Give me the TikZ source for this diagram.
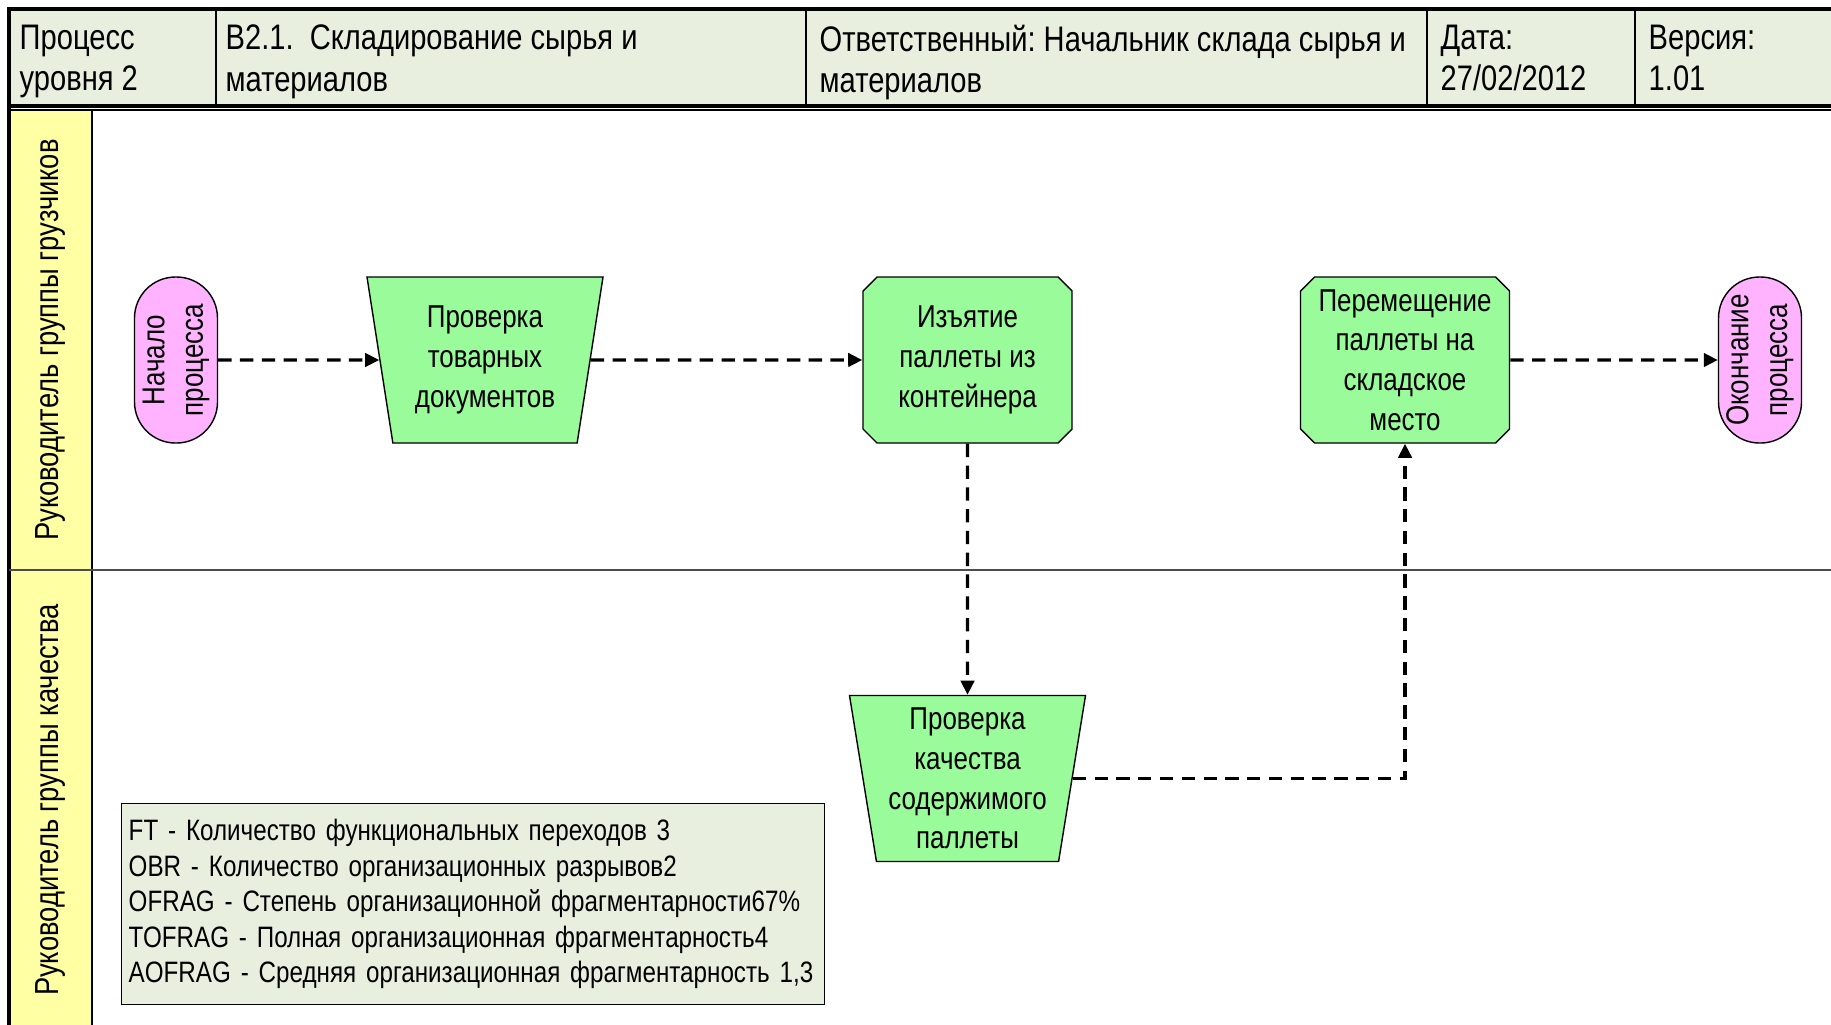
\documentclass[tikz,border=0pt]{standalone}
\usepackage{fontspec}
\setmainfont{Liberation Sans}[FakeStretch=0.82]
\usetikzlibrary{arrows.meta,shapes.geometric,shapes.misc}
\definecolor{hdrfill}{HTML}{E9EFDE}
\definecolor{lanefill}{HTML}{FFFFA3}
\definecolor{actgreen}{HTML}{99FB99}
\definecolor{evpink}{HTML}{FFB3FF}
\frenchspacing

\begin{document}
\begin{tikzpicture}[
        hdr/.style={anchor=north west, align=left, inner sep=0pt, font=\fontsize{10.1}{11.9}\selectfont},
        lanetxt/.style={rotate=90, font=\fontsize{9.5}{12}\selectfont},
        chk/.style={trapezium, trapezium stretches body, trapezium left angle=#1, trapezium right angle=#1,
                draw, fill=actgreen, minimum width=2.36cm, minimum height=1.66cm, inner sep=0pt,
                align=center, font=\fontsize{9}{11.3}\selectfont},
        act/.style={chamfered rectangle, chamfered rectangle xsep=0.07cm, chamfered rectangle ysep=0.07cm,
                draw, fill=actgreen, minimum width=2.09cm, minimum height=1.66cm, inner sep=0pt,
                align=center, font=\fontsize{9}{11.3}\selectfont},
        ev/.style={draw, fill=evpink, rounded corners=0.41cm, minimum width=1.66cm, minimum height=0.83cm,
                rotate=90, inner sep=0pt, align=center, font=\fontsize{9}{11}\selectfont},
        flow/.style={line width=0.9pt, dash pattern=on 3.8pt off 2.4pt, -{Triangle[length=4pt,width=3.8pt]}},
    ]
    \useasboundingbox (0,0) rectangle (18.31,-10.24);

    % Header and lanes
    \fill[hdrfill] (0.09,-0.09) rectangle (18.5,-1.06);
    \fill[lanefill] (0.09,-1.11) rectangle (0.92,-10.5);
    \draw[line width=1pt] (0.09,-10.5) -- (0.09,-0.09) -- (18.5,-0.09);
    \draw[line width=1pt] (0.09,-1.06) -- (18.5,-1.06);
    \draw[line width=0.5pt] (0.09,-1.10) -- (18.5,-1.10);
    \foreach \x in {2.16,8.06,14.27,16.35} \draw[line width=0.6pt] (\x,-0.09) -- (\x,-1.06);
    \draw[line width=0.5pt] (0.92,-1.10) -- (0.92,-10.5);
    \draw[line width=0.6pt, black!70] (0.09,-5.70) -- (18.5,-5.70);

    \node[hdr] (lvl) at (0.19,-0.24) {Процесс\\уровня 2};
    \node[hdr] (title) at (2.25,-0.24) {В2.1.\ \ Складирование сырья и\\материалов};
    \node[hdr] (owner) at (8.19,-0.24) {Ответственный: Начальник склада сырья и\\материалов};
    \node[hdr] (date) at (14.40,-0.24) {Дата:\\27/02/2012};
    \node[hdr] (ver) at (16.48,-0.24) {Версия:\\1.01};

    \node[lanetxt] (lane1) at (0.50,-3.40) {Руководитель группы грузчиков};
    \node[lanetxt] (lane2) at (0.50,-8.00) {Руководитель группы качества};

    % Process
    \node[ev] (start) at (1.76,-3.60) {Начало\\процесса};
    \node[chk=103.5] (chkdoc) at (4.85,-3.60) {Проверка\\товарных\\документов};
    \node[act] (take) at (9.675,-3.60) {Изъятие\\паллеты из\\контейнера};
    \node[act] (move) at (14.05,-3.60) {Перемещение\\паллеты на\\складское\\место};
    \node[ev] (finish) at (17.60,-3.60) {Окончание\\процесса};
    \node[chk=100.8] (chkqual) at (9.675,-7.785) {Проверка\\качества\\содержимого\\паллеты};

    \draw[flow] (start) -- (chkdoc);
    \draw[flow] (chkdoc) -- (take);
    \draw[flow] (take) -- (chkqual);
    \draw[flow] (chkqual) -| (move);
    \draw[flow] (move) -- (finish);

    % Metrics
    \node[draw, fill=hdrfill, anchor=north west, minimum width=7.03cm, minimum height=2.01cm,
        text width=6.89cm, align=left, inner xsep=0.07cm, font=\fontsize{8.4}{10.1}\selectfont] (metrics) at (1.21,-8.03)
        {FT - Количество функциональных переходов 3\\
         OBR - Количество организационных разрывов2\\
         OFRAG - Степень организационной фрагментарности67\%\\
         TOFRAG - Полная организационная фрагментарность4\\
         AOFRAG - Средняя организационная фрагментарность 1,3};
\end{tikzpicture}
\end{document}
